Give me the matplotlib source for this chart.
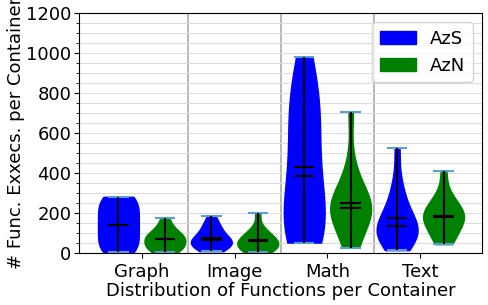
import numpy as np
import matplotlib.pyplot as plt
from matplotlib.patches import Patch
from matplotlib.ticker import MultipleLocator

categories = ["Graph", "Image", "Math", "Text"]

# function executions per container
azs_graph = [7, 12, 25, 45, 70, 100, 125, 143, 160, 185, 215, 240, 260, 272, 282]
azn_graph = [5, 10, 18, 28, 38, 48, 58, 72, 76, 80, 90, 102, 118, 140, 177]
azs_image = [10, 20, 30, 38, 45, 52, 60, 67, 75, 80, 100, 115, 135, 150, 187]
azn_image = [5, 10, 16, 24, 32, 40, 50, 60, 64, 70, 80, 92, 108, 130, 202]
azs_math = [53, 60, 80, 110, 150, 200, 260, 320, 387, 450, 540, 620, 690, 730, 800, 880, 982]
azn_math = [28, 50, 110, 160, 190, 210, 220, 228, 238, 250, 270, 300, 360, 440, 707]
azs_text = [15, 50, 70, 85, 95, 105, 115, 135, 150, 170, 200, 240, 290, 360, 527]
azn_text = [45, 60, 90, 120, 145, 160, 172, 180, 190, 205, 220, 240, 265, 300, 410]

azs = [azs_graph, azs_image, azs_math, azs_text]
azn = [azn_graph, azn_image, azn_math, azn_text]


def style(parts, color):
    for b in parts["bodies"]:
        b.set_facecolor(color)
        b.set_edgecolor(color)
        b.set_alpha(1)
    for k in ["cbars", "cmeans", "cmedians"]:
        parts[k].set_color("black")
    for k in ["cmaxes", "cmins"]:
        parts[k].set_color("#5a9fd4")


def main():
    plt.rcParams["font.size"] = 13
    fig, ax = plt.subplots(figsize=(4.88, 3.05), dpi=100)
    fig.subplots_adjust(left=0.162, right=0.987, bottom=0.17, top=0.956)

    x = np.arange(1, len(categories) + 1)
    p1 = ax.violinplot(azs, positions=x - 0.25, widths=0.44,
                       showmeans=True, showmedians=True)
    p2 = ax.violinplot(azn, positions=x + 0.25, widths=0.44,
                       showmeans=True, showmedians=True)
    style(p1, "blue")
    style(p2, "green")

    for s in x[:-1] + 0.5:
        ax.axvline(s, color="#aaaaaa", lw=1.2, zorder=0)

    ax.set_xticks(x)
    ax.set_xticklabels(categories)
    ax.set_xlim(0.326, 4.66)
    ax.set_ylim(0, 1200)
    ax.yaxis.set_minor_locator(MultipleLocator(50))
    ax.tick_params(axis="y", which="major", pad=2)
    ax.grid(axis="y", which="both", color="#dddddd", lw=0.8, zorder=0)
    ax.set_axisbelow(True)

    ax.set_xlabel("Distribution of Functions per Container", labelpad=1)
    ax.set_ylabel("# Func. Exxecs. per Container", labelpad=1)

    handles = [Patch(color="blue", label="AzS"), Patch(color="green", label="AzN")]
    ax.legend(handles=handles, loc="upper right")

    plt.savefig("out.png")


if __name__ == "__main__":
    main()
